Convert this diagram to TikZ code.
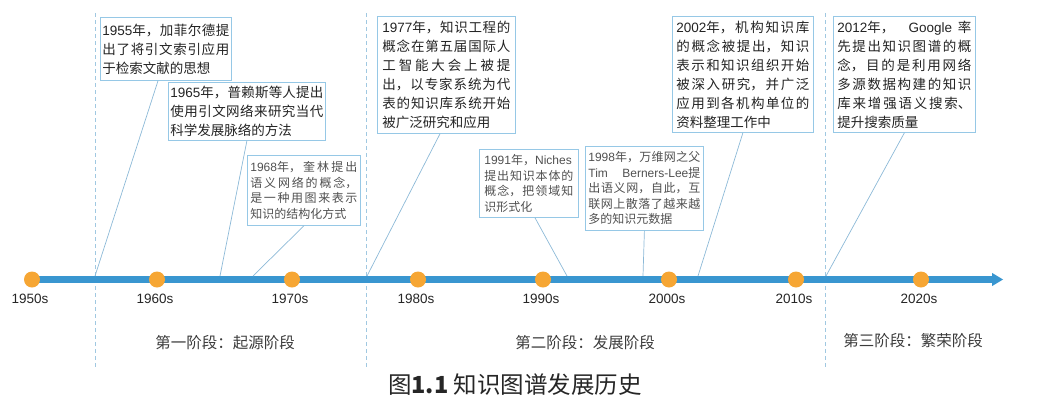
\documentclass[tikz,border=0pt]{standalone}
\usepackage{fontspec}
\setmainfont{Noto Sans CJK SC}
\newfontfamily\lat{Liberation Sans}
\usetikzlibrary{calc}
\XeTeXlinebreaklocale "zh"
\XeTeXlinebreakskip=0pt plus 4pt
\tolerance=10000
\hbadness=10000
\hyphenpenalty=10000
\definecolor{barblue}{RGB}{57,150,208}
\definecolor{dotc}{RGB}{246,166,52}
\definecolor{boxline}{RGB}{150,200,230}
\definecolor{connc}{RGB}{140,185,215}
\definecolor{dashc}{RGB}{160,200,225}
\definecolor{txtdark}{RGB}{35,35,35}
\definecolor{txtgray}{RGB}{80,80,80}
\definecolor{stagec}{RGB}{60,60,60}
\begin{document}
\begin{tikzpicture}[x=1pt,y=-1pt,
  bigbox/.style={draw=boxline, line width=0.8pt, anchor=north west, inner ysep=2pt, align=justify, text=txtdark,
    font=\fontsize{13.5}{19}\selectfont},
  smallbox/.style={draw=boxline, line width=0.8pt, anchor=north west, inner ysep=2pt, align=justify, text=txtgray,
    font=\fontsize{12}{15.5}\selectfont},
  yr/.style={font=\lat\fontsize{13.5}{16}\selectfont, text=black!85, inner sep=0pt},
  stage/.style={font=\fontsize{15.5}{18}\selectfont, text=stagec, inner sep=0pt},
  tdot/.style={circle, fill=dotc, inner sep=0pt, minimum size=16pt},
  conn/.style={draw=connc, line width=0.7pt},
  phase/.style={draw=dashc, line width=0.9pt, dash pattern=on 4pt off 3pt}]
\useasboundingbox (0,0) rectangle (1050,413);

% phase separators
\foreach \x [count=\i] in {95,366,825}{
  \coordinate (pt\i) at (\x,13);
  \coordinate (pb\i) at (\x,368);
  \draw[phase] (pt\i) -- (pb\i);
}

% timeline bar
\coordinate (bs) at (32,279.5);
\coordinate (be) at (992,279.5);
\coordinate (tip) at (1003,279.5);
\fill[barblue] ($(bs)+(0,-3.6)$) rectangle ($(be)+(0,3.6)$);
\fill[barblue] ($(be)+(0,-6.6)$) -- (tip) -- ($(be)+(0,6.6)$) -- cycle;

% dots and year labels
\foreach \x/\t [count=\i] in {32/1950s,157/1960s,292/1970s,418/1980s,543/1990s,669/2000s,796/2010s,921/2020s}{
  \node[tdot] (d\i) at (\x,279.5) {};
  \node[yr] (y\i) at (\x-2,299) {\t};
}

% event boxes
\node[bigbox, text width=127pt, inner xsep=2pt, minimum height=63pt] (b1) at (100,17)
  {{\lat 1955}年，加菲尔德提\linebreak 出了将引文索引应用\linebreak 于检索文献的思想};
\node[bigbox, text width=153pt, inner xsep=2pt, minimum height=58pt] (b2) at (168,82)
  {{\lat 1965}年，普赖斯等人提出\linebreak 使用引文网络来研究当代\linebreak 科学发展脉络的方法};
\node[smallbox, text width=107pt, inner xsep=3pt, minimum height=70pt] (b3) at (247,155)
  {{\lat 1968}年，奎林提出\linebreak 语义网络的概念，\linebreak 是一种用图来表示\linebreak 知识的结构化方式};
\node[bigbox, text width=128pt, inner xsep=5pt, minimum height=117pt] (b4) at (377,16)
  {{\lat 1977}年，知识工程的\linebreak 概念在第五届国际人\linebreak 工智能大会上被提\linebreak 出，以专家系统为代\linebreak 表的知识库系统开始\linebreak 被广泛研究和应用};
\node[smallbox, text width=89pt, inner xsep=5pt, minimum height=68pt] (b5) at (479,149)
  {{\lat 1991}年，{\lat Niches}\linebreak 提出知识本体的\linebreak 概念，把领域知\linebreak 识形式化};
\node[smallbox, text width=112pt, inner xsep=3pt, minimum height=84pt] (b6) at (585,146)
  {{\lat 1998}年，万维网之父\linebreak {\lat Tim \mbox{Berners-Lee}}提\linebreak 出语义网，自此，互\linebreak 联网上散落了越来越\linebreak 多的知识元数据};
\node[bigbox, text width=134pt, inner xsep=4pt, minimum height=116pt] (b8) at (833,16)
  {{\lat 2012}年，\hspace{0pt plus 10pt}{\lat Google}\hspace{0pt plus 4pt}率\linebreak 先提出知识图谱的概\linebreak 念，目的是利用网络\linebreak 多源数据构建的知识\linebreak 库来增强语义搜索、\linebreak 提升搜索质量};
\node[bigbox, text width=133pt, inner xsep=4pt, minimum height=116pt] (b7) at (672,16)
  {{\lat 2002}年，机构知识库\linebreak 的概念被提出，知识\linebreak 表示和知识组织开始\linebreak 被深入研究，并广泛\linebreak 应用到各机构单位的\linebreak 资料整理工作中};

% connector feet on the bar
\foreach \x [count=\i] in {95,220,253,367,567,643,698,826}{
  \coordinate (t\i) at (\x,276);
}
\draw[conn] ($(b1.south west)+(58,0)$) -- (t1);
\draw[conn] (b2.south) -- (t2);
\draw[conn] (b3.south) -- (t3);
\draw[conn] ($(b4.south west)+(63,0)$) -- (t4);
\draw[conn] ($(b5.south west)+(56,0)$) -- (t5);
\draw[conn] (b6.south) -- (t6);
\draw[conn] (b7.south) -- (t7);
\draw[conn] (b8.south) -- (t8);

% stage labels
\node[stage] (s1) at (225,343) {第一阶段：起源阶段};
\node[stage] (s2) at (585,343) {第二阶段：发展阶段};
\node[stage] (s3) at (913,341) {第三阶段：繁荣阶段};

% caption
\node[font=\fontsize{23.5}{27}\selectfont, text=black!85, inner sep=0pt] (cap) at (515,385) {图\textbf{1.1} 知识图谱发展历史};
\end{tikzpicture}
\end{document}
